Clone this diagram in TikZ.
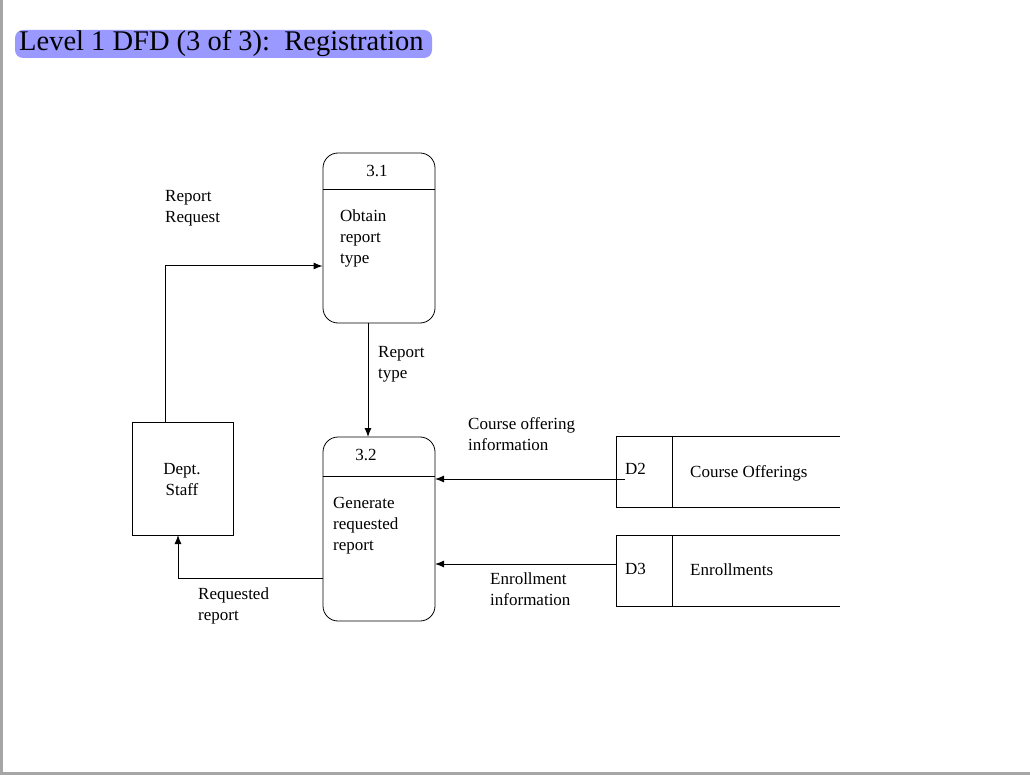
\documentclass[tikz,border=0pt]{standalone}
\usepackage{fontspec}
\setmainfont{Liberation Serif}
\usetikzlibrary{arrows.meta}
\begin{document}
\begin{tikzpicture}[x=1pt,y=-1pt,
  lbl/.style={font=\fontsize{17}{21}\selectfont,align=left,anchor=north west,inner sep=0},
  flow/.style={-{Latex[length=9pt,width=7pt]},line width=1pt},
  box/.style={draw,line width=0.8pt}]
\useasboundingbox (0,0) rectangle (1030,775);
\fill[white] (0,0) rectangle (1030,775);
\fill[gray!70] (0,0) rectangle (3,775);
\fill[gray!70] (0,772) rectangle (1030,775);
\fill[rounded corners=8pt,fill={rgb,255:red,153;green,153;blue,255}] (15,30) rectangle (432,58);
\node[anchor=west,inner sep=0,font=\fontsize{28.5}{30}\selectfont] (title) at (19,44) {Level 1 DFD (3 of 3):\ \ Registration};
% processes
\node[box,rounded corners=15pt,minimum width=112pt,minimum height=170pt,inner sep=0] (p1) at (379,238) {};
\draw[line width=0.8pt] (323,189) -- (435,189);
\node[lbl,anchor=center] (p1n) at (377,171) {3.1};
\node[lbl] (p1t) at (340,210) {Obtain\\report\\type};
\node[box,rounded corners=15pt,minimum width=112pt,minimum height=184pt,inner sep=0] (p2) at (379,529) {};
\draw[line width=0.8pt] (323,476) -- (435,476);
\node[lbl,anchor=center] (p2n) at (366,455) {3.2};
\node[lbl] (p2t) at (333,497) {Generate\\requested\\report};
% entity
\node[box,minimum width=101pt,minimum height=113pt,inner sep=0] (ds) at (182.5,478.5) {};
\node[lbl,align=center,anchor=center] (dst) at (182,480) {Dept.\\Staff};
% stores
\draw[line width=0.8pt] (840,436) -- (616,436) -- (616,507) -- (840,507);
\draw[line width=0.8pt] (672,436) -- (672,507);
\node[lbl] (d2) at (625,463) {D2};
\node[lbl] (d2t) at (690,465) {Course Offerings};
\coordinate (d2e) at (625,479);
\draw[line width=0.8pt] (840,535) -- (616,535) -- (616,606) -- (840,606);
\draw[line width=0.8pt] (672,535) -- (672,606);
\node[lbl] (d3) at (625,563) {D3};
\node[lbl] (d3t) at (690,564) {Enrollments};
\coordinate (d3e) at (616,564);
% flows
\draw[flow] (ds.north -| 165,0) -- (165,266) -- (p1.west |- 0,266);
\draw[flow] (368,323) -- (368,437);
\draw[flow] (d2e) -- (435,479);
\draw[flow] (d3e) -- (435,564);
\draw[flow] (323,578) -- (178,578) -- (178,535);
% labels
\node[lbl] (l1) at (165,190) {Report\\Request};
\node[lbl] (l2) at (378,346) {Report\\type};
\node[lbl] (l3) at (468,417) {Course offering\\information};
\node[lbl] (l4) at (490,573) {Enrollment\\information};
\node[lbl] (l5) at (198,588) {Requested\\report};
\end{tikzpicture}
\end{document}
